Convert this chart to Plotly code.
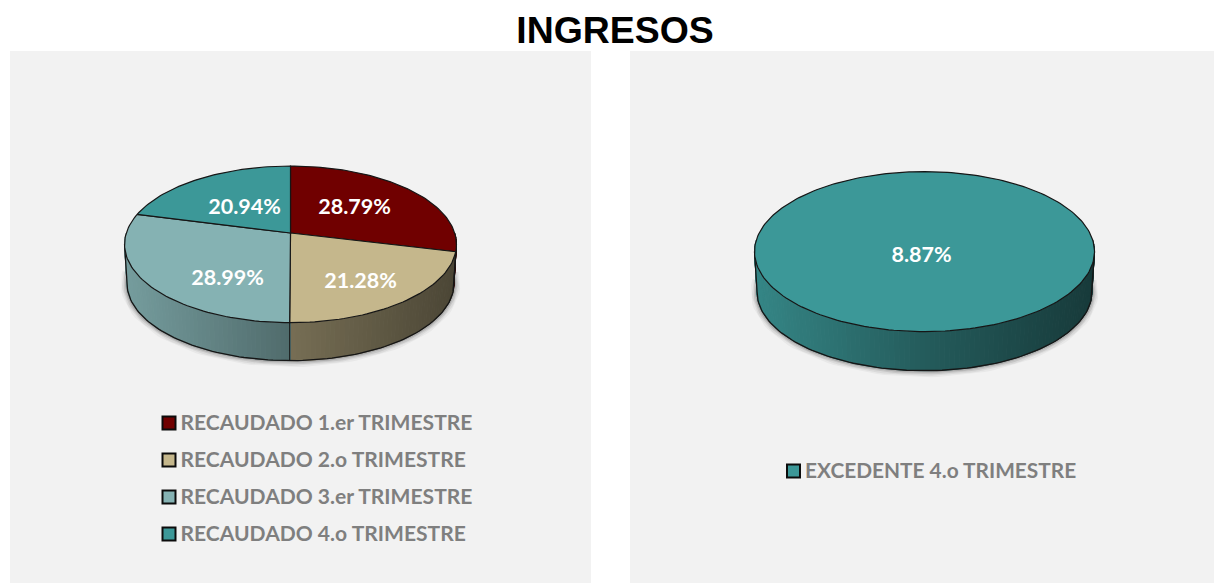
import math
import plotly.graph_objects as go

# ---- data ----
TITLE = "INGRESOS"
left_categories = ["RECAUDADO 1.er TRIMESTRE", "RECAUDADO 2.o TRIMESTRE",
                   "RECAUDADO 3.er TRIMESTRE", "RECAUDADO 4.o TRIMESTRE"]
left_values = [28.79, 21.28, 28.99, 20.94]
right_categories = ["EXCEDENTE 4.o TRIMESTRE"]
right_values = [8.87]
left_colors = ["#700000", "#C5B78C", "#85B2B3", "#3C9898"]
right_colors = ["#3C9898"]

# ---- look ----
PANEL = "#F2F2F2"
LABEL_FONT = "Lato"
W, H = 1214, 583
P = 0.145          # perspective of the tilted disc
SHRINK = 0.985     # base of the cylinder is a little further away


def rgb(hexcolor, f=1.0):
    return "rgb({},{},{})".format(*(round(int(hexcolor[i:i + 2], 16) * f) for i in (1, 3, 5)))


def pie_traces(values, colors, cats, geom, xa, ya):
    K, A, depth = geom["K"], geom["A"], geom["depth"]
    half = K / math.sqrt(1 - P * P)

    def top(t):
        r = math.radians(t)
        u, v = math.sin(r), math.cos(r)
        d = 1 + P * v
        return K * u / d, A * v / d

    def bottom(t):
        x, y = top(t)
        return x * SHRINK, y * SHRINK - depth

    def shade(x):
        s = x / half
        return 0.60 + (-s) * 0.28 if s < 0 else 0.60 - s * 0.22

    total = sum(values)
    edges = [0.0]
    for v in values:
        edges.append(edges[-1] + v / total * 360)
    common = dict(xaxis=xa, yaxis=ya, showlegend=False)
    out = []

    arc = [90 + i * 2 for i in range(91)]
    for width, alpha in ((13, 0.04), (10, 0.06), (7, 0.09), (4, 0.13)):
        out.append(go.Scatter(x=[bottom(t)[0] for t in arc], y=[bottom(t)[1] for t in arc],
                              mode="lines", line=dict(color=f"rgba(0,0,0,{alpha})", width=width),
                              hoverinfo="skip", **common))

    step = 1.5
    n = int(180 / step)
    for i in range(n):
        a, b = 90 + i * step, 90 + (i + 1) * step
        mid = (a + b) / 2
        idx = next((k for k in range(len(values)) if edges[k] <= mid < edges[k + 1]), len(values) - 1)
        pts = [top(a), top(b), bottom(b), bottom(a), top(a)]
        col = rgb(colors[idx], shade(top(mid)[0]))
        out.append(go.Scatter(x=[p[0] for p in pts], y=[p[1] for p in pts], mode="lines",
                              fill="toself", fillcolor=col, line=dict(color=col, width=1),
                              hoverinfo="skip", **common))

    edge_col = "#161616"
    arc2 = [top(98.3)] + [bottom(t) for t in [98.3 + i * 1.5 for i in range(110)]] + [top(261.7)]
    out.append(go.Scatter(x=[p[0] for p in arc2], y=[p[1] for p in arc2], mode="lines",
                          line=dict(color=edge_col, width=1.3), hoverinfo="skip", **common))
    if len(values) > 1:
        for e in edges[1:-1]:
            if 98.3 < e < 261.7:
                p0, p1 = top(e), bottom(e)
                out.append(go.Scatter(x=[p0[0], p1[0]], y=[p0[1], p1[1]], mode="lines",
                                      line=dict(color=edge_col, width=1), hoverinfo="skip", **common))

    for k, v in enumerate(values):
        a, b = edges[k], edges[k + 1]
        m = max(2, int((b - a) / 1.5))
        pts = [top(a + (b - a) * j / m) for j in range(m + 1)]
        if len(values) > 1:
            pts = [(0, 0)] + pts + [(0, 0)]
        out.append(go.Scatter(x=[p[0] for p in pts], y=[p[1] for p in pts], mode="lines",
                              fill="toself", fillcolor=colors[k], line=dict(color=edge_col, width=1.2),
                              name=cats[k], hoverinfo="name", **common))

    for k, v in enumerate(values):
        dx, dy = geom["labels"][k]
        out.append(go.Scatter(x=[dx], y=[dy], mode="text", text=[f"{v:.2f}%"],
                              textposition="middle center",
                              textfont=dict(family=LABEL_FONT, size=geom["label_size"], color="white", weight="bold"),
                              hoverinfo="skip", **common))

    lx = geom["legend_x"]
    for k, (c, ly) in enumerate(zip(cats, geom["legend_y"])):
        out.append(go.Scatter(x=[lx], y=[ly], mode="markers",
                              marker=dict(symbol="square", size=13, color=colors[k],
                                          line=dict(color="#0c0c0c", width=2)),
                              hoverinfo="skip", **common))
        out.append(go.Scatter(x=[lx + geom["legend_gap"]], y=[ly - 2], mode="text", text=[c],
                              textposition="middle right",
                              textfont=dict(family=LABEL_FONT, size=geom["legend_size"], color="#7F7F7F", weight="bold"),
                              hoverinfo="skip", **common))
    return out


left_geom = dict(K=164.2, A=76.7, depth=39.3, label_size=21.5, legend_size=21.05,
                 labels=[(64, 24), (70, -50), (-63, -47), (-46, 24)],
                 legend_x=-121.5, legend_gap=11.5, legend_y=[-190, -227, -264, -301])
right_geom = dict(K=168.2, A=78.3, depth=40.5, label_size=21.5, legend_size=20.85,
                  labels=[(-3, -17)],
                  legend_x=-131, legend_gap=11.5, legend_y=[-231])

fig = go.Figure()
fig.add_traces(pie_traces(left_values, left_colors, left_categories, left_geom, "x", "y"))
fig.add_traces(pie_traces(right_values, right_colors, right_categories, right_geom, "x2", "y2"))

axis = dict(visible=False, fixedrange=True)
TOP = 51
fig.update_layout(
    width=W, height=H, autosize=False,
    margin=dict(l=0, r=0, t=0, b=0),
    paper_bgcolor="white", plot_bgcolor=PANEL,
    showlegend=False,
    title=dict(text=f"<b>{TITLE}</b>", x=615 / W, xanchor="center", y=1 - 30 / H, yanchor="middle",
               font=dict(family="Liberation Sans", size=37.4, color="black")),
    xaxis=dict(domain=[10 / W, 591 / W], range=[10 - 290.5, 591 - 290.5], **axis),
    yaxis=dict(domain=[0, 1 - TOP / H], range=[233 - H, 233 - TOP], **axis),
    xaxis2=dict(domain=[630 / W, 1], range=[630 - 924.5, W - 924.5], anchor="y2", **axis),
    yaxis2=dict(domain=[0, 1 - TOP / H], range=[240 - H, 240 - TOP], anchor="x2", **axis),
)

fig.write_html("out.html", config=dict(displayModeBar=False),
               post_script="document.body.style.margin='0';document.body.style.overflow='hidden';")
